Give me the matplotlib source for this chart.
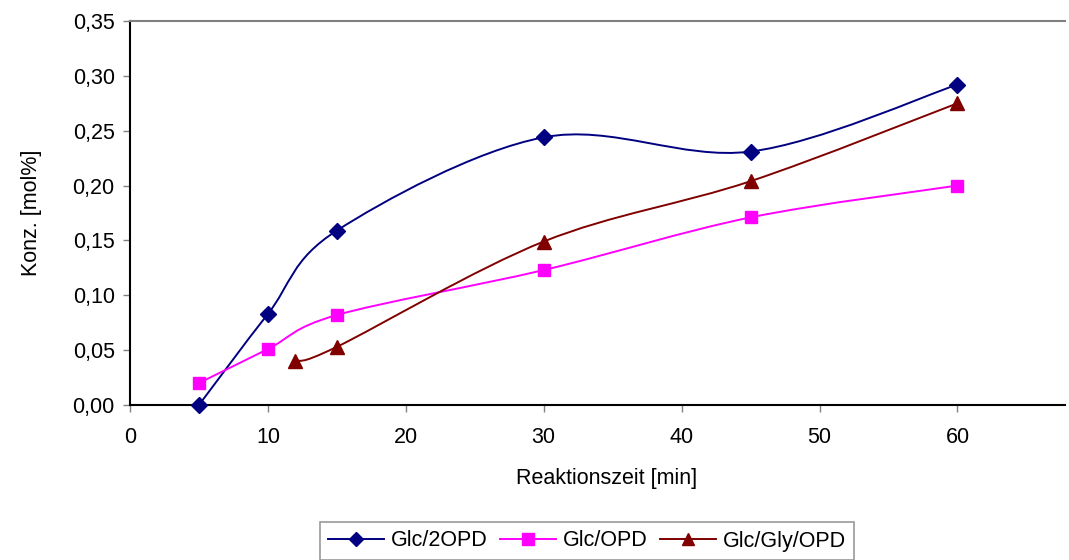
import numpy as np
import matplotlib
matplotlib.use("Agg")
import matplotlib.pyplot as plt
from matplotlib.path import Path
from matplotlib.patches import PathPatch
from matplotlib.lines import Line2D

plt.rcParams['font.family'] = ['Liberation Sans', 'DejaVu Sans']

# Data
x_2opd = [5, 10, 15, 30, 45, 60]
y_2opd = [0.0, 0.083, 0.159, 0.244, 0.231, 0.292]
x_opd = [5, 10, 15, 30, 45, 60]
y_opd = [0.020, 0.051, 0.082, 0.123, 0.171, 0.200]
x_gly = [12, 15, 30, 45, 60]
y_gly = [0.040, 0.053, 0.149, 0.204, 0.275]
labels = ["Glc/2OPD", "Glc/OPD", "Glc/Gly/OPD"]
xticks = [0, 10, 20, 30, 40, 50, 60]
yticks = [0.0, 0.05, 0.10, 0.15, 0.20, 0.25, 0.30, 0.35]

FS = 15.5

fig = plt.figure(figsize=(10.69, 5.6), dpi=100)
ax = fig.add_axes([0.1216, 0.2768, 0.8747, 0.6857])


def smooth_path(ax, xs, ys, color, lw):
    # Excel-like smoothed line drawn as cubic Bezier segments through the points
    pts = ax.transData.transform(np.column_stack([xs, ys]))
    n = len(pts)
    verts = [pts[0]]
    codes = [Path.MOVETO]
    for i in range(n - 1):
        p0 = pts[i - 1] if i > 0 else pts[i]
        p1 = pts[i]
        p2 = pts[i + 1]
        p3 = pts[i + 2] if i + 2 < n else pts[i + 1]
        c1 = p1 + (p2 - p0) / 6.0
        c2 = p2 - (p3 - p1) / 6.0
        verts += [c1, c2, p2]
        codes += [Path.CURVE4] * 3
    path = Path(verts, codes)
    patch = PathPatch(path, facecolor='none', edgecolor=color, lw=lw,
                      transform=None, zorder=2)
    ax.add_artist(patch)


ax.set_xlim(0, 67.8)
ax.set_ylim(0, 0.35)

series = [
    (x_2opd, y_2opd, '#000080', 'D', 8),
    (x_opd, y_opd, '#FF00FF', 's', 9),
    (x_gly, y_gly, '#800000', '^', 9.5),
]

handles = []
for (xs, ys, c, m, ms), lab in zip(series, labels):
    smooth_path(ax, xs, ys, c, 1.4)
    ax.plot(xs, ys, linestyle='none', marker=m, color=c, markersize=ms,
            zorder=3, clip_on=False)
    handles.append(Line2D([0], [0], color=c, lw=1.4, marker=m, markersize=ms * 0.9,
                          label=lab))

ax.set_xticks(xticks)
ax.set_xticklabels([str(t) for t in xticks])
ax.set_yticks(yticks)
ax.set_yticklabels([f"{t:.2f}".replace('.', ',') for t in yticks])

ax.tick_params(axis='both', direction='out', length=5, width=1, color='#808080',
               labelsize=FS, pad=6)
ax.tick_params(axis='x', pad=11)

ax.spines['right'].set_visible(False)
ax.spines['top'].set_color('#808080')
ax.spines['top'].set_linewidth(1.5)
for s in ['left', 'bottom']:
    ax.spines[s].set_color('black')
    ax.spines[s].set_linewidth(1.5)

ax.set_xlabel("Reaktionszeit [min]", fontsize=FS, va='center')
ax.xaxis.set_label_coords((607 - 130) / 935, (405 - 479) / 384)
ax.set_ylabel("Konz. [mol%]", fontsize=FS, labelpad=22)

leg = fig.legend(handles=handles, loc='center', bbox_to_anchor=(587 / 1069, 1 - 541 / 560),
                 ncol=3, frameon=True, fancybox=False, fontsize=FS, handlelength=2.6,
                 columnspacing=0.6, handletextpad=0.3, borderpad=0.4)
leg.get_frame().set_edgecolor('#808080')
leg.get_frame().set_linewidth(1.2)

fig.savefig("out.png", dpi=100)
